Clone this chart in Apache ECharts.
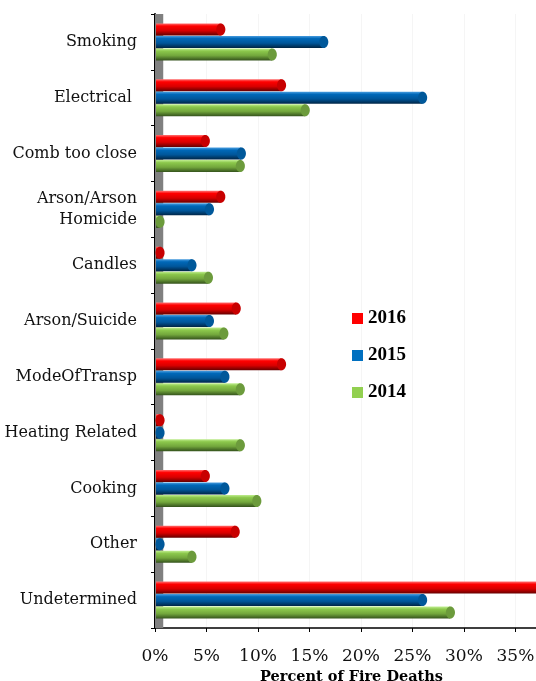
<!DOCTYPE html>
<html>
<head>
<meta charset="utf-8">
<script src="https://cdn.jsdelivr.net/npm/echarts@6/dist/echarts.min.js"></script>
<style>
html,body{margin:0;padding:0;background:#fff;}
#chart{width:536px;height:681px;}
</style>
</head>
<body>
<div id="chart"></div>
<script>
var categories = ['Smoking', 'Electrical ', 'Comb too close', 'Arson/Arson\nHomicide', 'Candles', 'Arson/Suicide', 'ModeOfTransp', 'Heating Related', 'Cooking', 'Other', 'Undetermined'];
var years = ['2016', '2015', '2014'];
var values2016 = [5.9, 11.8, 4.4, 5.9, 0, 7.4, 11.8, 0, 4.4, 7.3, 40];
var values2015 = [15.9, 25.5, 7.9, 4.8, 3.1, 4.8, 6.3, 0, 6.3, 0, 25.5];
var values2014 = [10.9, 14.1, 7.8, 0, 4.7, 6.2, 7.8, 7.8, 9.4, 3.1, 28.2];
var tickValues = [0, 5, 10, 15, 20, 25, 30, 35];

var chart = echarts.init(document.getElementById('chart'));
var LG = echarts.graphic.LinearGradient;

var palettes = [
  {legend: '#ff0000', cap: '#c80000', stops: [[0, '#ff7070'], [0.22, '#ff0000'], [0.6, '#d80000'], [1, '#640000']]},
  {legend: '#0070c0', cap: '#00589a', stops: [[0, '#4a9ee0'], [0.22, '#0068b8'], [0.6, '#00569a'], [1, '#002545']]},
  {legend: '#92d050', cap: '#6c9b3c', stops: [[0, '#c0ee90'], [0.22, '#8cc84c'], [0.6, '#72a63c'], [1, '#34521c']]}
];

function makeRender(k) {
  var p = palettes[k];
  return function (params, api) {
    var cat = api.value(1);
    var start = api.coord([0, cat]);
    var end = api.coord([api.value(0), cat]);
    var band = api.size([0, 1])[1];
    var h = band * 0.215;
    var cy = start[1] + (k - 1) * band * 0.224;
    var depth = band * 0.09;
    var xe = end[0] + depth;
    var rx = h * 0.38;
    return {
      type: 'group',
      children: [
        {type: 'rect', shape: {x: start[0] + 1, y: cy - h / 2, width: Math.max(0, xe - start[0] - 1), height: h},
         style: {fill: new LG(0, 0, 0, 1, p.stops.map(function (s) { return {offset: s[0], color: s[1]}; }))}},
        {type: 'ellipse', shape: {cx: xe, cy: cy, rx: rx, ry: h / 2}, style: {fill: p.cap}}
      ]
    };
  };
}

function seriesData(vals) {
  return vals.map(function (v, i) { return [v, i]; });
}

var allVals = [values2016, values2015, values2014];
var series = years.map(function (y, k) {
  return {
    name: y,
    type: 'custom',
    renderItem: makeRender(k),
    encode: {x: 0, y: 1},
    data: seriesData(allVals[k]),
    itemStyle: {color: palettes[k].legend},
    clip: true,
    z: 5
  };
});
series.unshift({
  name: 'wall',
  type: 'custom',
  renderItem: function () { return null; },
  data: [],
  z: 1,
  silent: true,
  markArea: {
    silent: true,
    itemStyle: {color: '#808080'},
    data: [[{xAxis: 0}, {xAxis: 0.8}]]
  }
});

chart.setOption({
  animation: false,
  backgroundColor: '#ffffff',
  grid: {left: 155, top: 14, right: 0, bottom: 53, containLabel: false, outerBoundsMode: 'none'},
  legend: {
    data: years,
    orient: 'vertical',
    left: 347,
    top: 304,
    icon: 'rect',
    itemWidth: 11,
    itemHeight: 11,
    itemGap: 18,
    textStyle: {fontFamily: 'Liberation Serif', fontWeight: 'bold', fontSize: 19, color: '#000'}
  },
  xAxis: {
    type: 'value',
    min: 0,
    max: 37,
    interval: 5,
    name: 'Percent of Fire Deaths',
    nameLocation: 'middle',
    nameGap: 37,
    nameTextStyle: {fontFamily: 'DejaVu Serif', fontWeight: 'bold', fontSize: 14.5, color: '#000', padding: [0, 0, 0, 12]},
    axisLine: {show: true, lineStyle: {color: '#000', width: 1.5}},
    axisTick: {show: true, length: 4, lineStyle: {color: '#000'}, customValues: tickValues},
    axisLabel: {
      fontFamily: 'DejaVu Serif', fontSize: 17, color: '#111', margin: 20,
      customValues: tickValues,
      formatter: function (v) { return v + '%'; }
    },
    splitLine: {show: true, lineStyle: {color: '#f5f5f5', width: 1}}
  },
  yAxis: {
    type: 'category',
    inverse: true,
    data: categories,
    axisLine: {show: true, lineStyle: {color: '#000', width: 2}},
    axisTick: {show: true, length: 4, lineStyle: {color: '#000'}},
    axisLabel: {fontFamily: 'DejaVu Serif', fontSize: 16, color: '#111', margin: 18, lineHeight: 21}
  },
  series: series
});
</script>
</body>
</html>
